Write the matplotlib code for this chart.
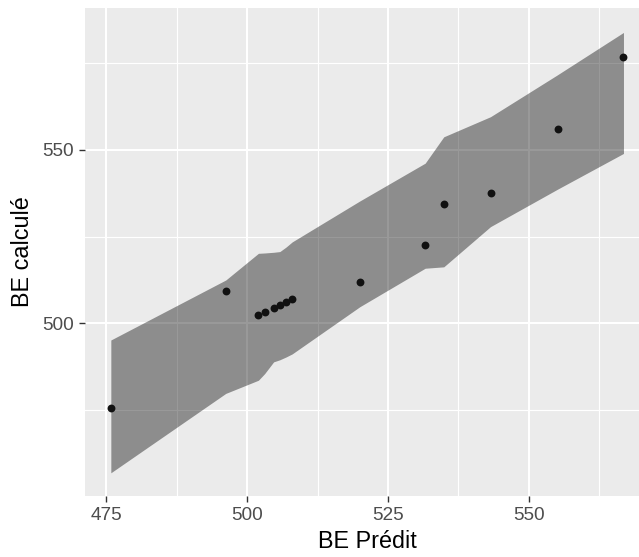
import matplotlib
matplotlib.use("Agg")
import matplotlib.pyplot as plt
from matplotlib.ticker import FixedLocator

plt.rcParams['font.family'] = ['Liberation Sans', 'DejaVu Sans']

# Predicted vs computed values, with the lower/upper bounds of the band
be_predit = [475.8, 496.2, 502.0, 503.1, 504.7, 505.8, 506.9, 508.0,
             520.0, 531.6, 534.9, 543.2, 555.1, 566.8]
be_calcule = [475.5, 509.2, 502.3, 503.3, 504.3, 505.2, 506.1, 507.0,
              512.0, 522.7, 534.3, 537.5, 556.0, 576.8]
bande_basse = [456.9, 479.8, 483.6, 485.5, 488.9, 489.5, 490.3, 491.2,
               504.8, 515.9, 516.3, 527.9, 538.7, 549.0]
bande_haute = [495.2, 512.5, 520.2, 520.3, 520.5, 520.7, 522.0, 523.5,
               535.3, 546.2, 553.8, 559.6, 571.7, 583.9]

x_ticks = [475, 500, 525, 550]
x_minor = [487.5, 512.5, 537.5, 562.5]
y_ticks = [500, 550]
y_minor = [475, 525, 575]

W, H = 639, 557
fig = plt.figure(figsize=(W / 100, H / 100), dpi=100)
left, right, top, bottom = 85.2, 649.1, 8.0, 495.7
ax = fig.add_axes([left / W, 1 - bottom / H, (right - left) / W, (bottom - top) / H])

ax.set_facecolor('#EBEBEB')
for s in ax.spines.values():
    s.set_visible(False)

ax.set_xlim(471.25, 571.35)
ax.set_ylim(450.3, 590.95)

ax.xaxis.set_major_locator(FixedLocator(x_ticks))
ax.xaxis.set_minor_locator(FixedLocator(x_minor))
ax.yaxis.set_major_locator(FixedLocator(y_ticks))
ax.yaxis.set_minor_locator(FixedLocator(y_minor))

ax.grid(which='major', color='white', linewidth=1.5)
ax.grid(which='minor', color='white', linewidth=0.8)
ax.set_axisbelow(True)

ax.tick_params(which='major', length=4.6, width=1.0, color='#333333',
               labelsize=13.7, labelcolor='#4D4D4D', pad=3.5)
ax.tick_params(which='minor', length=0)

ax.fill_between(be_predit, bande_basse, bande_haute, color='black',
                alpha=0.4, linewidth=0, zorder=2)
ax.scatter(be_predit, be_calcule, s=32, color='#111111', linewidths=0, zorder=3)

ax.set_xlabel('BE Prédit', fontsize=16.8, color='black', labelpad=4)
ax.set_ylabel('BE calculé', fontsize=16.8, color='black', labelpad=6)

fig.savefig('out.png', dpi=100)
